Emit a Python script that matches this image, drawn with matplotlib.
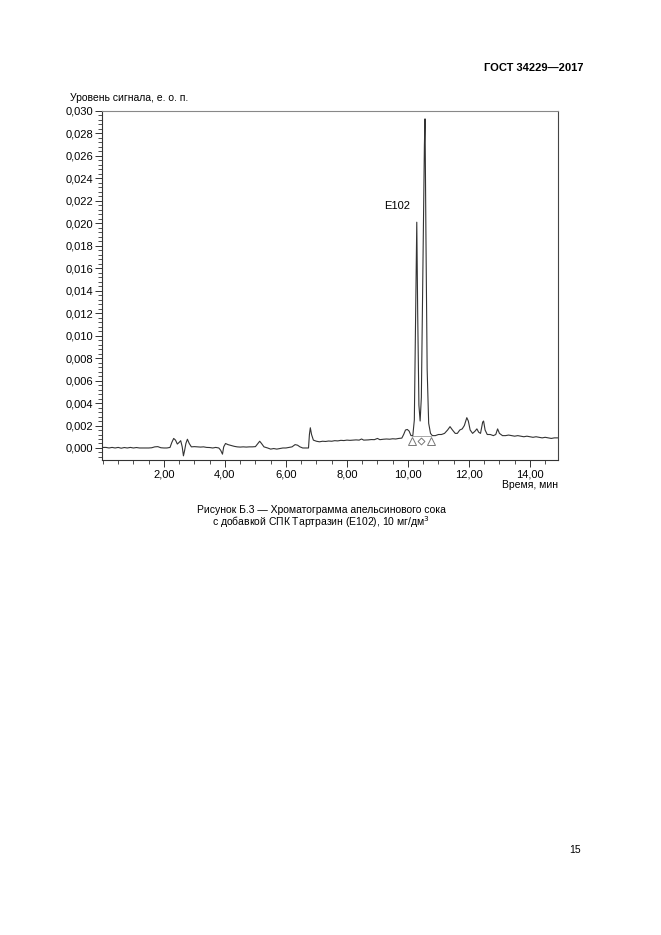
import matplotlib
matplotlib.use("Agg")
import matplotlib.pyplot as plt
from matplotlib.ticker import FixedLocator, MultipleLocator, FuncFormatter

plt.rcParams['font.family'] = ['Liberation Sans', 'DejaVu Sans']

# chromatogram: time (min) / signal (a.u.)
time_min = [
    0.00, 0.10, 0.20, 0.30, 0.40, 0.50, 0.60, 0.70, 0.80, 0.90,
    1.00, 1.10, 1.20, 1.30, 1.40, 1.50, 1.60, 1.70, 1.80, 1.90,
    2.00, 2.10, 2.20, 2.26, 2.32, 2.38, 2.44, 2.50, 2.55, 2.60,
    2.64, 2.68, 2.72, 2.77, 2.83, 2.90, 3.00, 3.10, 3.20, 3.30,
    3.40, 3.50, 3.60, 3.70, 3.80, 3.86, 3.92, 3.96, 4.02, 4.10,
    4.20, 4.30, 4.40, 4.50, 4.60, 4.70, 4.80, 4.90, 5.00, 5.08,
    5.14, 5.20, 5.28, 5.40, 5.50, 5.60, 5.70, 5.80, 5.90, 6.00,
    6.10, 6.20, 6.30, 6.38, 6.46, 6.55, 6.65, 6.74, 6.77, 6.80,
    6.84, 6.90, 7.00, 7.10, 7.20, 7.30, 7.40, 7.50, 7.60, 7.70,
    7.80, 7.90, 8.00, 8.10, 8.20, 8.30, 8.40, 8.48, 8.55, 8.70,
    8.80, 8.90, 9.00, 9.08, 9.20, 9.30, 9.40, 9.50, 9.60, 9.70,
    9.80, 9.86, 9.92, 9.98, 10.04, 10.10, 10.16, 10.21, 10.25, 10.29,
    10.32, 10.36, 10.40, 10.44, 10.49, 10.54, 10.56, 10.59, 10.63, 10.68,
    10.74, 10.80, 10.90, 11.00, 11.10, 11.20, 11.30, 11.38, 11.46, 11.55,
    11.62, 11.70, 11.78, 11.85, 11.93, 11.98, 12.04, 12.12, 12.20, 12.26,
    12.32, 12.38, 12.45, 12.48, 12.53, 12.60, 12.70, 12.80, 12.88, 12.94,
    13.00, 13.10, 13.20, 13.30, 13.40, 13.50, 13.60, 13.70, 13.80, 13.90,
    14.00, 14.10, 14.20, 14.30, 14.40, 14.50, 14.60, 14.70, 14.80, 14.92,
]
signal = [
    0.00005, 0.00005, 0.0, 0.00005, 0.0, 0.00005, -0.00002, 0.00004, 0.0, 0.00005,
    0.0, 0.00004, 0.0, 0.0, 0.0, 0.0, 0.00002, 0.0001, 0.00012, 0.00002,
    0.0, 0.0, 0.00005, 0.0005, 0.00085, 0.0007, 0.00035, 0.0005, 0.00065, 0.0001,
    -0.0007, -0.0002, 0.0004, 0.00078, 0.0004, 0.0001, 0.00012, 0.0001, 0.00008, 0.0001,
    0.00005, 0.00004, 0.0, 0.00005, 0.0, -0.0002, -0.00055, 0.0001, 0.0004, 0.0003,
    0.00022, 0.00015, 0.0001, 0.00008, 0.0001, 0.00008, 0.0001, 0.0001, 0.00012, 0.0004,
    0.0006, 0.0004, 0.0001, 0.0, -0.0001, -0.00005, -0.0001, -0.00005, 0.0, 0.0,
    0.00005, 0.0001, 0.0003, 0.00025, 0.0001, 0.0, 0.0, 0.0, 0.0012, 0.0018,
    0.0012, 0.0007, 0.0006, 0.00055, 0.0006, 0.00058, 0.00062, 0.0006, 0.00065, 0.00063,
    0.00068, 0.00066, 0.0007, 0.00068, 0.0007, 0.00072, 0.0007, 0.0008, 0.0007, 0.00072,
    0.00075, 0.00074, 0.00085, 0.00074, 0.00078, 0.0008, 0.00078, 0.00082, 0.0008, 0.00085,
    0.00088, 0.0012, 0.0016, 0.00165, 0.0015, 0.0011, 0.0011, 0.0025, 0.011, 0.0201,
    0.012, 0.0038, 0.0024, 0.0045, 0.016, 0.027, 0.0293, 0.019, 0.007, 0.0022,
    0.0013, 0.0011, 0.0011, 0.0012, 0.0012, 0.0013, 0.0016, 0.0019, 0.0016, 0.0013,
    0.0013, 0.0016, 0.0017, 0.0020, 0.0027, 0.0024, 0.0016, 0.0013, 0.0015, 0.0017,
    0.0014, 0.0013, 0.0023, 0.0024, 0.0016, 0.0012, 0.0012, 0.0011, 0.0012, 0.0017,
    0.0013, 0.0011, 0.0011, 0.00115, 0.0011, 0.00105, 0.0011, 0.00105, 0.0010, 0.00105,
    0.0010, 0.00095, 0.0010, 0.00095, 0.0009, 0.00095, 0.0009, 0.00085, 0.0009, 0.0009,
]

# integration marks under the E102 peak
mark_tri_t = [10.13, 10.75]
mark_dia_t = [10.43]
mark_y = 0.00065
baseline_y = 0.0011

peak_label = "E102"
peak_label_pos = (10.08, 0.0215)

y_ticks = [0.000, 0.002, 0.004, 0.006, 0.008, 0.010, 0.012, 0.014,
           0.016, 0.018, 0.020, 0.022, 0.024, 0.026, 0.028, 0.030]
x_ticks = [2, 4, 6, 8, 10, 12, 14]

W, H = 661, 935
fig = plt.figure(figsize=(W / 100, H / 100), dpi=100)
fig.patch.set_facecolor('white')


def fx(px):
    return px / W


def fy(py):
    return 1 - py / H


ax = fig.add_axes([fx(102), fy(460), fx(558) - fx(102), fy(111) - fy(460)])
ax.plot(time_min, signal, color='#333333', lw=0.8)
ax.plot([mark_tri_t[0], mark_tri_t[1]], [baseline_y, baseline_y], color='#999999', lw=0.6)
ax.plot(mark_tri_t, [mark_y] * len(mark_tri_t), ls='none', marker='^', ms=6,
        mfc='white', mec='#777777', mew=0.7)
ax.plot(mark_dia_t, [mark_y] * len(mark_dia_t), ls='none', marker='D', ms=3.5,
        mfc='white', mec='#777777', mew=0.7)
ax.text(peak_label_pos[0], peak_label_pos[1], peak_label, fontsize=8, ha='right', va='center')

ax.set_xlim(-0.03, 14.92)
ax.set_ylim(-0.00107, 0.0300)

ax.xaxis.set_major_locator(FixedLocator(x_ticks))
ax.xaxis.set_minor_locator(MultipleLocator(0.5))
ax.yaxis.set_major_locator(FixedLocator(y_ticks))
ax.yaxis.set_minor_locator(MultipleLocator(0.0004))
ax.xaxis.set_major_formatter(FuncFormatter(lambda v, p: f"{v:.2f}".replace('.', ',')))
ax.yaxis.set_major_formatter(FuncFormatter(lambda v, p: f"{v:.3f}".replace('.', ',')))
ax.tick_params(axis='both', which='major', direction='out', length=5, width=0.7,
               labelsize=8, pad=1.5, color='#333333')
ax.tick_params(axis='both', which='minor', direction='out', length=3, width=0.6,
               color='#333333')

ax.spines['left'].set_color('#333333')
ax.spines['bottom'].set_color('#333333')
ax.spines['top'].set_color('#888888')
ax.spines['right'].set_color('#444444')
for sp in ax.spines.values():
    sp.set_linewidth(0.8)

fig.text(fx(583), fy(68), "ГОСТ 34229—2017", fontsize=8, fontweight='bold',
         ha='right', va='center')
fig.text(fx(70), fy(98), "Уровень сигнала, е. о. п.", fontsize=7.5, ha='left', va='center')
fig.text(fx(558), fy(485), "Время, мин", fontsize=7.5, ha='right', va='center')
fig.text(fx(321), fy(510), "Рисунок Б.3 — Хроматограмма апельсинового сока",
         fontsize=7.5, ha='center', va='center')
fig.text(fx(321), fy(522), "с добавкой СПК Тартразин (Е102), 10 мг/дм$^3$",
         fontsize=7.5, ha='center', va='center')
fig.text(fx(575), fy(850), "15", fontsize=7.5, ha='center', va='center')

fig.savefig("out.png", dpi=100)
